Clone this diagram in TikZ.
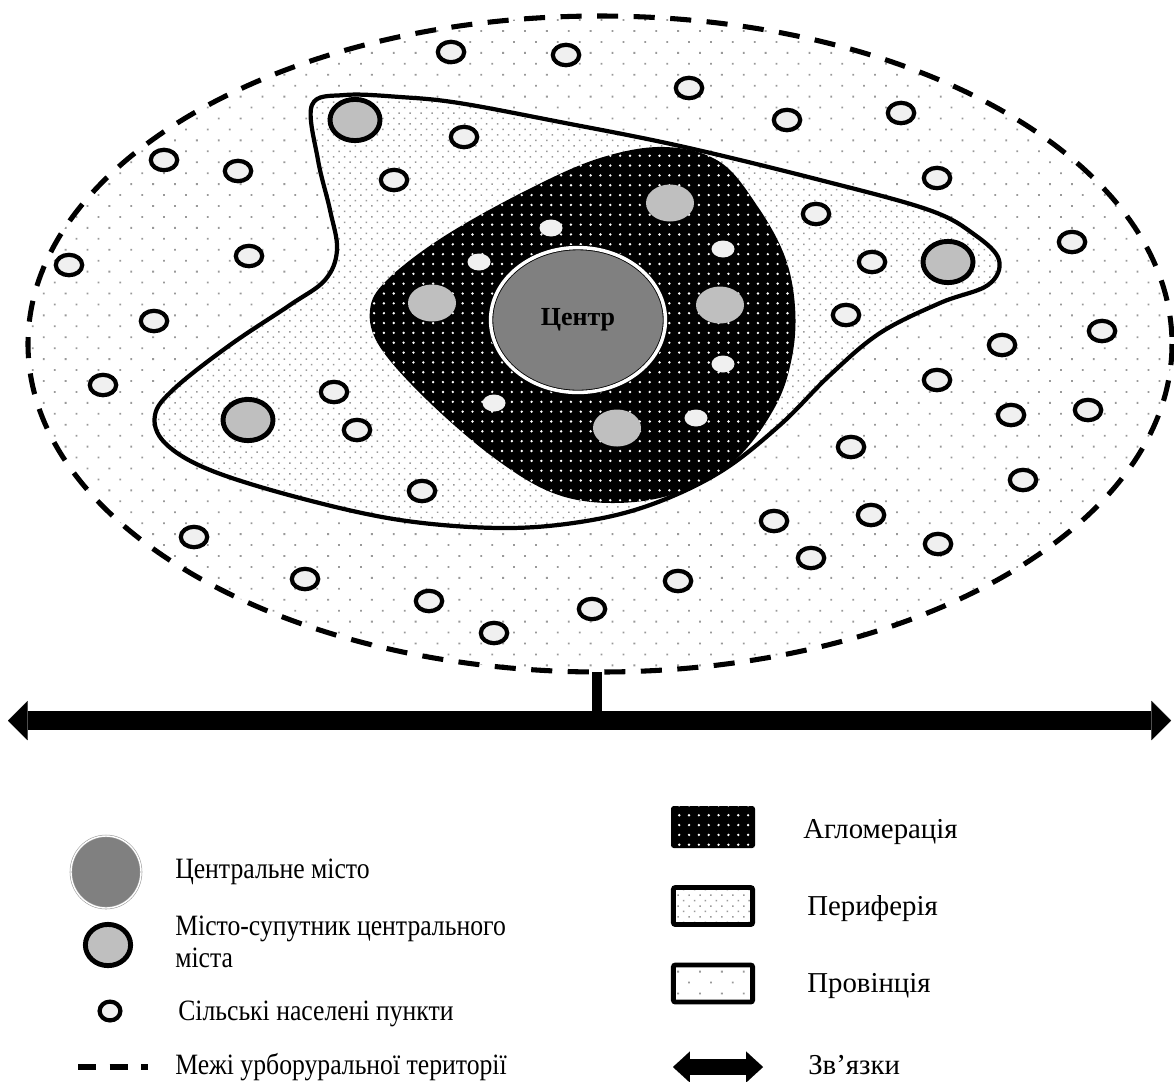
\documentclass[tikz,border=0pt]{standalone}
\usepackage{fontspec}
\setmainfont{Liberation Serif}
\newfontfamily\vuzkyj[FakeStretch=0.87]{Liberation Serif}
\usepackage{tikz}
\usetikzlibrary{arrows.meta, positioning, shapes.geometric, patterns.meta}
\definecolor{sirij}{HTML}{808080}
\definecolor{sirijsvit}{HTML}{BFBFBF}
\definecolor{bilij}{HTML}{F0F0F0}
\definecolor{krapka}{HTML}{999999}

\begin{document}
\begin{tikzpicture}[
  x=0.025cm, y=-0.025cm,
  selo/.style={ellipse, draw=black, line width=3pt, fill=bilij, minimum width=0.66cm, minimum height=0.51cm, inner sep=0pt},
  seloin/.style={ellipse, fill=bilij, minimum width=0.575cm, minimum height=0.425cm, inner sep=0pt},
  suput/.style={ellipse, draw=black, line width=3.5pt, fill=sirijsvit, minimum width=1.25cm, minimum height=1.03cm, inner sep=0pt},
  suputin/.style={ellipse, fill=sirijsvit, minimum width=1.2cm, minimum height=0.925cm, inner sep=0pt},
  provin/.style={preaction={fill=white}, pattern={Dots[distance=11pt, angle=45, radius=0.9pt]}, pattern color=krapka},
  perif/.style={preaction={fill=white}, pattern={Dots[distance=5.5pt, angle=45, radius=0.75pt]}, pattern color=krapka},
  ahlo/.style={preaction={fill=black}, pattern={Dots[distance=7pt, radius=0.95pt]}, pattern color=white},
  mezha/.style={line width=3.6pt, dash pattern=on 15pt off 11pt},
  zviazok/.style={line width=13.5pt, {Triangle[length=14pt, width=28pt, line width=0.01pt]}-{Triangle[length=14pt, width=28pt, line width=0.01pt]}},
  lbl/.style={font=\vuzkyj\fontsize{21}{22.5}\selectfont, anchor=base west, inner sep=0pt},
  lblr/.style={font=\fontsize{20.5}{22}\selectfont, anchor=base west, inner sep=0pt},
]
\useasboundingbox (0,0) rectangle (1174,1081);

% --- Провінція (урборуральна територія) ---
\path[provin] (600,344) ellipse [x radius=572, y radius=328];
\draw[mezha] (600,344) ellipse [x radius=572, y radius=328];

% --- Периферія ---
\draw[perif, line width=3pt] plot[smooth cycle, tension=0.6] coordinates {
  (312,105) (345,95) (400,97) (459,103) (560,122) (680,146) (820,180)
  (929,210) (975,235) (999,260) (988,285) (940,303) (880,333) (830,375)
  (780,425) (720,472) (650,505) (580,522) (500,528) (400,520) (300,498)
  (210,470) (165,443) (155,415) (175,388) (230,345) (290,305) (325,280)
  (337,250) (330,210) (318,160)};

% --- Агломерація ---
\path[ahlo] plot[smooth cycle, tension=0.6] coordinates {
  (665,147) (720,162) (758,207) (785,257) (795,307) (792,357) (775,407)
  (735,460) (677,493) (613,503) (553,493) (493,457) (427,400) (380,347)
  (370,310) (387,280) (443,237) (527,190) (600,158)};

% --- Центр ---
\node[ellipse, draw=black, line width=0.6pt, double=white, double distance=2.5pt,
  fill=sirij, minimum width=4.37cm, minimum height=3.62cm, inner sep=0pt,
  font=\bfseries\fontsize{18.5}{20}\selectfont] (tsentr) at (578,320) {Центр};

% --- Міста-супутники ---
\node[suputin] (ms1) at (670,203) {};
\node[suputin] (ms2) at (432,303) {};
\node[suputin] (ms3) at (720,305) {};
\node[suputin] (ms4) at (617,428) {};
\node[suput] (ms5) at (355,120) {};
\node[suput] (ms6) at (948,262) {};
\node[suput] (ms7) at (248,420) {};

% --- Села в агломерації ---
\foreach \x/\y [count=\i] in {551/228, 479/262, 723/249, 723/364, 494/403, 696/418}
  \node[seloin] (sa\i) at (\x,\y) {};

% --- Сільські населені пункти ---
\foreach \x/\y [count=\i] in {451/52, 566/55, 689/88, 787/120, 901/113, 464/137,
  164/160, 238/171, 394/180, 937/178, 816/214, 1072/242, 69/265, 249/256,
  872/262, 154/321, 846/315, 1102/331, 1002/345, 937/380, 334/392, 103/385,
  1011/415, 1088/410, 851/447, 357/430, 1023/480, 422/491, 774/521, 871/515,
  938/544, 811/558, 194/537, 678/581, 305/579, 429/601, 592/609, 494/633}
  \node[selo] (s\i) at (\x,\y) {};

% --- Зв'язки ---
\coordinate (provniz) at (597,672);
\coordinate (zvL) at (8,720.5);
\coordinate (zvR) at (1171,720.5);
\coordinate (zvM) at (597,720.5);
\draw[zviazok] (zvL) -- (zvR);
\draw[line width=7pt] (provniz) -- (zvM);

% --- Легенда (ліва колонка) ---
\node[ellipse, draw=krapka, line width=0.4pt, double=white, double distance=1pt,
  fill=sirij, minimum width=1.75cm, minimum height=1.8cm, inner sep=0pt] (lcentr) at (106,872) {};
\node[lbl] (tcentr) at (175,878) {Центральне місто};
\node[suput, minimum width=1.13cm, minimum height=1.03cm] (lsuput) at (108,945) {};
\node[lbl, anchor=north west, align=left] (tsuput) at (175,916) {Місто-супутник центрального\\міста};
\node[selo, minimum width=0.52cm, minimum height=0.47cm] (lselo) at (110,1011) {};
\node[lbl] (tselo) at (178,1020) {Сільські населені пункти};
\coordinate (lm1) at (78,1067);
\coordinate (lm2) at (148,1067);
\draw[line width=3.6pt, dash pattern=on 13pt off 9.5pt] (lm1) -- (lm2);
\node[lbl] (tmezha) at (175,1074) {Межі урборуральної території};

% --- Легенда (права колонка) ---
\node[ahlo, rectangle, rounded corners=2pt, minimum width=2.1cm, minimum height=1.05cm] (lahlo) at (713,827) {};
\node[lblr] (tahlo) at (803,838) {Агломерація};
\node[perif, rectangle, draw=black, line width=3.5pt, rounded corners=1.5pt,
  minimum width=1.98cm, minimum height=0.925cm] (lperif) at (713,906) {};
\node[lblr] (tperif) at (807,915) {Периферія};
\node[provin, rectangle, draw=black, line width=3.5pt, rounded corners=1.5pt,
  minimum width=1.98cm, minimum height=0.925cm] (lprovin) at (713,983.5) {};
\node[lblr] (tprovin) at (807,992) {Провінція};
\coordinate (lz1) at (673,1067);
\coordinate (lz2) at (763,1067);
\draw[line width=11pt, {Triangle[length=12pt, width=22pt, line width=0.01pt]}-{Triangle[length=12pt, width=22pt, line width=0.01pt]}] (lz1) -- (lz2);
\node[lblr] (tzv) at (808,1074) {Зв’язки};

\end{tikzpicture}
\end{document}
